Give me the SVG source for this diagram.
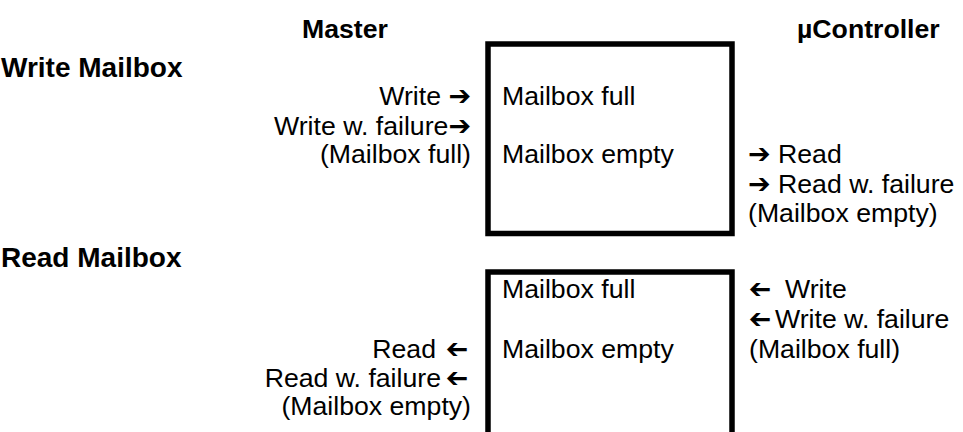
<svg xmlns="http://www.w3.org/2000/svg" width="963" height="432" viewBox="0 0 963 432">
<style>
.t{font-family:"Liberation Sans",Arial,sans-serif;font-size:26.67px;fill:#000}
.b{font-weight:bold}
.h{font-size:28px}
.e{text-anchor:end}
.ar{font-family:"DejaVu Sans",sans-serif;font-weight:bold;font-size:27px}
.box{fill:none;stroke:#000;stroke-width:5.5}
</style>
<rect width="963" height="432" fill="#fff"/>
<g id="headings">
<text class="t b" x="302" y="38">Master</text>
<text class="t b" x="797" y="38">µController</text>
<text class="t b h" x="1" y="77">Write Mailbox</text>
<text class="t b h" x="1" y="267">Read Mailbox</text>
</g>
<g id="write-mailbox">
<rect class="box" x="488" y="44" width="244" height="189.5"/>
<text class="t" x="502" y="105">Mailbox full</text>
<text class="t" x="502" y="163">Mailbox empty</text>
</g>
<g id="read-mailbox">
<rect class="box" x="488" y="272" width="244" height="200"/>
<text class="t" x="502" y="298">Mailbox full</text>
<text class="t" x="502" y="358">Mailbox empty</text>
</g>
<g id="connectors">
<text class="t e" x="471" y="105">Write <tspan class="ar">➔</tspan></text>
<text class="t e" x="471" y="135">Write w. failure<tspan class="ar">➔</tspan></text>
<text class="t e" x="471" y="163">(Mailbox full)</text>
<text class="t" x="748" y="163"><tspan class="ar">➔</tspan> Read</text>
<text class="t" x="748" y="193"><tspan class="ar">➔</tspan> Read w. failure</text>
<text class="t" x="748" y="222">(Mailbox empty)</text>
<text class="t ar" x="760" y="298" text-anchor="middle" transform="matrix(-1 0 0 1 1520 0)">➔</text>
<text class="t" x="785" y="298">Write</text>
<text class="t ar" x="760" y="328" text-anchor="middle" transform="matrix(-1 0 0 1 1520 0)">➔</text>
<text class="t" x="775" y="328">Write w. failure</text>
<text class="t" x="749" y="358">(Mailbox full)</text>
<text class="t e" x="436" y="358">Read</text>
<text class="t ar" x="457" y="358" text-anchor="middle" transform="matrix(-1 0 0 1 914 0)">➔</text>
<text class="t e" x="441" y="387">Read w. failure</text>
<text class="t ar" x="457" y="387" text-anchor="middle" transform="matrix(-1 0 0 1 914 0)">➔</text>
<text class="t e" x="471" y="415">(Mailbox empty)</text>
</g>
</svg>
